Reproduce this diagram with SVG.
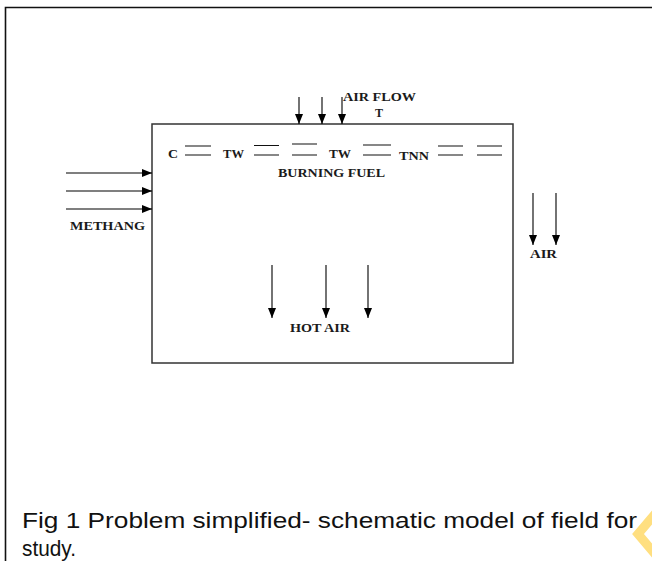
<svg xmlns="http://www.w3.org/2000/svg" width="652" height="561" viewBox="0 0 652 561">
<style>
.lbl{font-family:"Liberation Serif","Times New Roman",serif;font-weight:bold;font-size:12px;fill:#1a1a1a}
.cap{font-family:"Liberation Sans",Arial,sans-serif;font-size:22px;fill:#111}
.ar{stroke:#000;stroke-width:1.1;fill:none;marker-end:url(#ah)}
.dash{stroke:#111;stroke-width:1.2}
</style>
<defs>
<marker id="ah" viewBox="0 0 10 8" refX="10" refY="4" markerWidth="10" markerHeight="8" markerUnits="userSpaceOnUse" orient="auto">
<path d="M0,0 L10,4 L0,8 Z" fill="#000"/>
</marker>
</defs>
<rect width="652" height="561" fill="#fff"/>
<g id="frame">
<path d="M5.5,561 V7.5 H652" fill="none" stroke="#111" stroke-width="1.6"/>
</g>
<g id="field">
<rect x="152" y="124" width="361" height="239" fill="none" stroke="#333" stroke-width="1.5"/>
<text class="lbl" x="168" y="158" textLength="10" lengthAdjust="spacingAndGlyphs">C</text>
<text class="lbl" x="223" y="158" textLength="21" lengthAdjust="spacingAndGlyphs">TW</text>
<text class="lbl" x="329" y="158" textLength="22" lengthAdjust="spacingAndGlyphs">TW</text>
<text class="lbl" x="399" y="160" textLength="30" lengthAdjust="spacingAndGlyphs">TNN</text>
<text class="lbl" x="278" y="177" textLength="107" lengthAdjust="spacingAndGlyphs">BURNING FUEL</text>
<g id="fuel-dashes">
<path class="dash" d="M185,146H211M185,155H211M254,145.5H279M254,155H279M292,144H317M292,155H317M363,145H391M363,155H391M438,146H463M438,155H463M477,146H502M477,155H502"/>
</g>
</g>
<g id="airflow">
<text class="lbl" x="343" y="101" textLength="73" lengthAdjust="spacingAndGlyphs">AIR FLOW</text>
<text class="lbl" x="375" y="117">T</text>
</g>
<g id="methang">
<text class="lbl" x="70" y="230" textLength="75" lengthAdjust="spacingAndGlyphs">METHANG</text>
</g>
<g id="air">
<text class="lbl" x="530" y="258" textLength="27" lengthAdjust="spacingAndGlyphs">AIR</text>
</g>
<g id="hotair">
<text class="lbl" x="290" y="332" textLength="60" lengthAdjust="spacingAndGlyphs">HOT AIR</text>
</g>
<g id="connectors">
<line class="ar" x1="299" y1="97" x2="299" y2="124"/>
<line class="ar" x1="322" y1="97" x2="322" y2="124"/>
<line class="ar" x1="342" y1="97" x2="342" y2="124"/>
<line class="ar" x1="66" y1="173" x2="152" y2="173"/>
<line class="ar" x1="66" y1="191" x2="152" y2="191"/>
<line class="ar" x1="66" y1="209" x2="152" y2="209"/>
<line class="ar" x1="533" y1="193" x2="533" y2="245"/>
<line class="ar" x1="556" y1="193" x2="556" y2="245"/>
<line class="ar" x1="272" y1="265" x2="272" y2="318"/>
<line class="ar" x1="326" y1="265" x2="326" y2="318"/>
<line class="ar" x1="368" y1="265" x2="368" y2="318"/>
</g>
<g id="caption">
<text class="cap" x="22" y="528" textLength="615" lengthAdjust="spacingAndGlyphs">Fig 1 Problem simplified- schematic model of field for</text>
<text class="cap" x="22" y="556" textLength="54" lengthAdjust="spacingAndGlyphs">study.</text>
</g>
<g id="mark">
<polyline points="660,508 638,534 660,560" fill="none" stroke="#FFDF80" stroke-width="9"/>
</g>
</svg>
